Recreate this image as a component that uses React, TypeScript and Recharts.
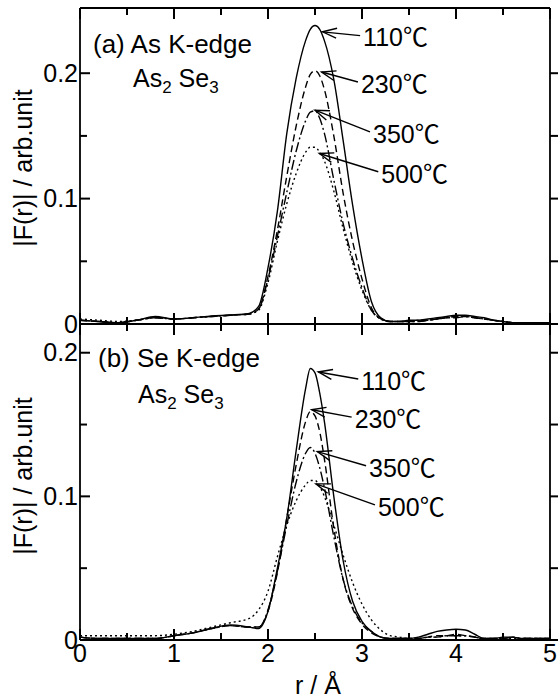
import { LineChart, Line, XAxis, YAxis, ReferenceLine } from "recharts"

// r grid (Å), shared by every series
const rValues = [
  0, 0.2, 0.4, 0.6, 0.8, 1.0, 1.2, 1.4, 1.6, 1.8,
  1.9, 2.0, 2.1, 2.2, 2.3, 2.4, 2.45, 2.5, 2.55, 2.6, 2.7, 2.8, 2.9, 3.0, 3.1, 3.2, 3.3,
  3.4, 3.5, 3.6, 3.7, 3.8, 3.9, 4.0, 4.1, 4.2, 4.3, 4.4, 4.5, 4.6, 4.7, 4.8, 4.9, 5.0,
]

// (a) As K-edge
const asK110 = [
  0.003, 0.002, 0.001, 0.003, 0.006, 0.004, 0.005, 0.0065, 0.0072, 0.0085,
  0.014, 0.045, 0.09, 0.152, 0.196, 0.226, 0.235, 0.238, 0.235, 0.226, 0.195, 0.146, 0.095, 0.052, 0.018, 0.005, 0.002,
  0.002, 0.003, 0.003, 0.004, 0.005, 0.006, 0.007, 0.007, 0.006, 0.005, 0.003, 0.002, 0.001, 0.001, 0.001, 0.001, 0.001,
]
const asK230 = [
  0.003, 0.002, 0.001, 0.003, 0.005, 0.004, 0.005, 0.006, 0.007, 0.008,
  0.012, 0.038, 0.075, 0.118, 0.158, 0.189, 0.199, 0.202, 0.198, 0.187, 0.15, 0.104, 0.066, 0.036, 0.013, 0.004, 0.002,
  0.002, 0.002, 0.002, 0.003, 0.004, 0.005, 0.006, 0.006, 0.005, 0.004, 0.003, 0.002, 0.001, 0.001, 0.001, 0.001, 0.001,
]
const asK350 = [
  0.003, 0.002, 0.001, 0.003, 0.005, 0.004, 0.005, 0.006, 0.007, 0.008,
  0.012, 0.036, 0.07, 0.105, 0.138, 0.162, 0.169, 0.17, 0.164, 0.152, 0.115, 0.08, 0.052, 0.029, 0.011, 0.004, 0.002,
  0.002, 0.002, 0.002, 0.003, 0.004, 0.005, 0.005, 0.006, 0.005, 0.004, 0.003, 0.002, 0.001, 0.001, 0.001, 0.001, 0.001,
]
const asK500 = [
  0.004, 0.003, 0.002, 0.003, 0.005, 0.004, 0.005, 0.006, 0.007, 0.008,
  0.011, 0.033, 0.066, 0.096, 0.12, 0.137, 0.141, 0.141, 0.137, 0.13, 0.106, 0.076, 0.049, 0.027, 0.011, 0.004, 0.002,
  0.002, 0.002, 0.003, 0.003, 0.004, 0.005, 0.006, 0.006, 0.005, 0.004, 0.003, 0.002, 0.001, 0.001, 0.001, 0.001, 0.001,
]

// (b) Se K-edge
const seK110 = [
  0.002, 0.001, 0.001, 0.001, 0.001, 0.003, 0.005, 0.008, 0.0105, 0.009,
  0.008, 0.02, 0.05, 0.085, 0.132, 0.175, 0.189, 0.186, 0.172, 0.152, 0.1, 0.055, 0.027, 0.013, 0.006, 0.002, 0.001,
  0.001, 0.001, 0.002, 0.004, 0.006, 0.007, 0.0075, 0.007, 0.004, 0.001, 0.001, 0.002, 0.002, 0.001, 0.001, 0.001, 0.001,
]
const seK230 = [
  0.002, 0.001, 0.001, 0.001, 0.001, 0.003, 0.005, 0.008, 0.01, 0.009,
  0.009, 0.02, 0.047, 0.085, 0.122, 0.152, 0.159, 0.156, 0.145, 0.126, 0.078, 0.042, 0.022, 0.011, 0.005, 0.002, 0.001,
  0.001, 0.001, 0.001, 0.002, 0.003, 0.003, 0.004, 0.003, 0.002, 0.001, 0.001, 0.001, 0.002, 0.001, 0.001, 0.001, 0.001,
]
const seK350 = [
  0.002, 0.001, 0.001, 0.001, 0.001, 0.003, 0.005, 0.008, 0.01, 0.009,
  0.009, 0.021, 0.048, 0.08, 0.11, 0.13, 0.134, 0.13, 0.12, 0.106, 0.072, 0.042, 0.023, 0.012, 0.006, 0.002, 0.001,
  0.001, 0.001, 0.001, 0.002, 0.002, 0.003, 0.003, 0.003, 0.002, 0.001, 0.001, 0.001, 0.002, 0.001, 0.001, 0.001, 0.001,
]
const seK500 = [
  0.003, 0.003, 0.003, 0.003, 0.003, 0.004, 0.006, 0.009, 0.012, 0.015,
  0.021, 0.034, 0.058, 0.08, 0.097, 0.108, 0.111, 0.111, 0.107, 0.1, 0.08, 0.059, 0.04, 0.025, 0.014, 0.007, 0.003,
  0.002, 0.001, 0.001, 0.002, 0.002, 0.003, 0.003, 0.003, 0.002, 0.001, 0.001, 0.001, 0.001, 0.001, 0.001, 0.001, 0.001,
]

const xTicks = [0, 0.5, 1, 1.5, 2, 2.5, 3, 3.5, 4, 4.5, 5]
const yTicks = [0, 0.05, 0.1, 0.15, 0.2]
const tempLabels = ["110\u2103", "230\u2103", "350\u2103", "500\u2103"]

// arrow tip / tail in data coords (r, |F(r)|)
const asArrows = [
  { tip: [2.58, 0.233], tail: [2.98, 0.23] },
  { tip: [2.57, 0.201], tail: [2.957, 0.193] },
  { tip: [2.5, 0.1705], tail: [3.085, 0.1532] },
  { tip: [2.546, 0.136], tail: [3.173, 0.1214] },
]
const seArrows = [
  { tip: [2.535, 0.1866], tail: [2.96, 0.1817] },
  { tip: [2.465, 0.1603], tail: [2.89, 0.1552] },
  { tip: [2.525, 0.1312], tail: [3.043, 0.1213] },
  { tip: [2.51, 0.1087], tail: [3.138, 0.0941] },
]

const series = [
  { key: "t110", dash: undefined },
  { key: "t230", dash: "7 4" },
  { key: "t350", dash: "10 3 2 3" },
  { key: "t500", dash: "2 3" },
]

const FONT = "'Liberation Sans', Arial, Helvetica, 'Noto Sans CJK JP', sans-serif"
const axisStroke = { stroke: "#000", strokeWidth: 1.8 }
const PLOT_LEFT = 80
const PLOT_RIGHT = 550
const TICK_W = 2

const build = (a: number[], b: number[], c: number[], d: number[]) =>
  rValues.map((r, i) => ({ r, t110: a[i], t230: b[i], t350: c[i], t500: d[i] }))

const asData = build(asK110, asK230, asK350, asK500)
const seData = build(seK110, seK230, seK350, seK500)

const noTick = () => <g />
const isMajor = (v: number, step: number) => Math.abs(v / step - Math.round(v / step)) < 1e-6

// y ticks: inward on the left frame, outward on the right frame, label for 0 / 0.1 / 0.2
const yTick = (props: any) => {
  const { y, payload } = props
  const v = payload.value
  const major = isMajor(v, 0.1)
  const len = major ? 10 : 7
  return (
    <g>
      <line x1={PLOT_LEFT} y1={y} x2={PLOT_LEFT + len} y2={y} stroke="#000" strokeWidth={TICK_W} />
      <line x1={PLOT_RIGHT} y1={y} x2={PLOT_RIGHT + 8} y2={y} stroke="#000" strokeWidth={TICK_W} />
      {major && (
        <text x={78} y={y} textAnchor="end" dy="0.35em" fontSize={25} fontFamily={FONT} fill="#000">
          {v === 0 ? "0" : v.toFixed(1)}
        </text>
      )}
    </g>
  )
}

// x ticks: inward on top and bottom frame, integer labels below when asked
const xTickFor = (plotTop: number, plotBottom: number, labelY?: number) => (props: any) => {
  const { x, payload } = props
  const v = payload.value
  const major = isMajor(v, 1)
  const len = major ? 11 : 7
  return (
    <g>
      <line x1={x} y1={plotTop} x2={x} y2={plotTop + len} stroke="#000" strokeWidth={TICK_W} />
      <line x1={x} y1={plotBottom - len} x2={x} y2={plotBottom} stroke="#000" strokeWidth={TICK_W} />
      {major && labelY !== undefined && (
        <text x={x} y={labelY} textAnchor="middle" dy="0.71em" fontSize={25} fontFamily={FONT} fill="#000">
          {v}
        </text>
      )}
    </g>
  )
}

const arrowShape = (label: string) => (props: any) => {
  const { x1, y1, x2, y2 } = props
  const ang = Math.atan2(y2 - y1, x2 - x1)
  const len = 15
  const spread = 0.34
  const ax = x1 + len * Math.cos(ang + spread)
  const ay = y1 + len * Math.sin(ang + spread)
  const bx = x1 + len * Math.cos(ang - spread)
  const by = y1 + len * Math.sin(ang - spread)
  return (
    <g>
      <line x1={x1} y1={y1} x2={x2} y2={y2} stroke="#000" strokeWidth={1.4} />
      <polyline points={`${ax},${ay} ${x1},${y1} ${bx},${by}`} fill="none" stroke="#000" strokeWidth={1.4} />
      <text x={x2 + 3} y={y2 + 2} dy="0.35em" fontSize={25} fontFamily={FONT} fill="#000">
        {label}
      </text>
    </g>
  )
}

type PanelProps = {
  data: any[]
  arrows: { tip: number[]; tail: number[] }[]
  yMax: number
  top: number
  height: number
  margin: { top: number; right: number; bottom: number; left: number }
  title: string
  titleY: number
  titleX: number
  formulaX: number
  formulaY: number
  yLabelY: number
  xLabelY?: number
}

function Panel(p: PanelProps) {
  const plotTop = p.margin.top
  const plotBottom = p.height - p.margin.bottom
  const xCommon = { dataKey: "r", type: "number" as const, domain: [0, 5], interval: 0 as const, height: 1, allowDataOverflow: true }
  const yCommon = { type: "number" as const, domain: [0, p.yMax], interval: 0 as const, width: 1, allowDataOverflow: true }
  return (
    <div style={{ position: "absolute", left: 0, top: p.top }}>
      <LineChart width={558} height={p.height} data={p.data} margin={p.margin}>
        <XAxis
          {...xCommon}
          mirror
          ticks={xTicks}
          tick={xTickFor(plotTop, plotBottom, p.xLabelY)}
          axisLine={axisStroke}
          tickLine={false}
        />
        <XAxis {...xCommon} xAxisId="t" orientation="top" mirror ticks={xTicks} tick={noTick} axisLine={axisStroke} tickLine={false} />
        <YAxis {...yCommon} mirror ticks={yTicks} tick={yTick} axisLine={axisStroke} tickLine={false} />
        <YAxis {...yCommon} yAxisId="r" orientation="right" mirror ticks={yTicks} tick={noTick} axisLine={axisStroke} tickLine={false} />
        {series.map((s) => (
          <Line
            key={s.key}
            dataKey={s.key}
            type="monotone"
            stroke="#000"
            strokeWidth={1.4}
            strokeDasharray={s.dash}
            dot={false}
            activeDot={false}
            isAnimationActive={false}
          />
        ))}
        {p.arrows.map((a, i) => (
          <ReferenceLine
            key={i}
            segment={[
              { x: a.tip[0], y: a.tip[1] },
              { x: a.tail[0], y: a.tail[1] },
            ]}
            ifOverflow="visible"
            shape={arrowShape(tempLabels[i])}
          />
        ))}
        <text x={p.titleX} y={p.titleY} fontSize={26} fontFamily={FONT} fill="#000">
          {p.title}
        </text>
        <text x={p.formulaX} y={p.formulaY} fontSize={25} fontFamily={FONT} fill="#000">
          As
          <tspan fontSize={17} dy={6}>2</tspan>
          <tspan dy={-6}> Se</tspan>
          <tspan fontSize={17} dy={6}>3</tspan>
        </text>
        <text
          x={23}
          y={p.yLabelY}
          textAnchor="middle"
          dy="0.35em"
          fontSize={25}
          fontFamily={FONT}
          fill="#000"
          transform={`rotate(-90, 23, ${p.yLabelY})`}
        >
          |F(r)| / arb.unit
        </text>
        {p.xLabelY !== undefined && (
          <text x={318} y={370} textAnchor="middle" fontSize={25} fontFamily={FONT} fill="#000">
            r / Å
          </text>
        )}
      </LineChart>
    </div>
  )
}

export default function App() {
  return (
    <div style={{ position: "absolute", left: 0, top: 0, width: 558, height: 699, background: "#fff" }}>
      <Panel
        data={asData}
        arrows={asArrows}
        yMax={0.252}
        top={0}
        height={340}
        margin={{ top: 8, right: 8, bottom: 16, left: 80 }}
        title="(a) As K-edge"
        titleX={93}
        titleY={53}
        formulaX={133}
        formulaY={87}
        yLabelY={168}
      />
      <Panel
        data={seData}
        arrows={seArrows}
        yMax={0.22}
        top={324}
        height={375}
        margin={{ top: 0, right: 8, bottom: 59, left: 80 }}
        title="(b) Se K-edge"
        titleX={98}
        titleY={43}
        formulaX={138}
        formulaY={79}
        yLabelY={152}
        xLabelY={320}
      />
    </div>
  )
}
